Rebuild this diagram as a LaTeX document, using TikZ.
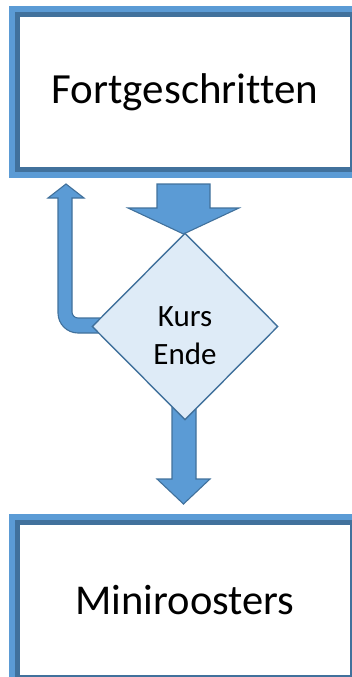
\documentclass[tikz,border=0pt]{standalone}
\usepackage{fontspec}
\setmainfont[Ligatures=CommonOff]{Carlito}
\usetikzlibrary{shapes.geometric,calc}
\definecolor{bfill}{HTML}{5B9BD5}
\definecolor{bdark}{HTML}{41719C}
\definecolor{dfill}{HTML}{DEEBF7}
\tikzset{
  boxnode/.style={draw=bdark, line width=8pt, fill=white, minimum width=338pt, minimum height=158pt, inner sep=0pt},
  boxinner/.style={draw=bfill, line width=6.6pt},
  decnode/.style={diamond, draw=bdark, line width=1.4pt, fill=dfill, minimum width=186pt, minimum height=187pt, inner sep=0pt},
  dectext/.style={align=center, inner sep=0pt, font=\fontsize{31}{38}\selectfont},
  blockarrow/.style={fill=bfill, draw=bdark, line width=1.1pt, line join=miter}
}
\begin{document}
\begin{tikzpicture}[x=1pt,y=-1pt]
\useasboundingbox (0,0) rectangle (352,677);
\clip (0,0) rectangle (352,677);
% boxes
\node[boxnode, font=\fontsize{43}{50}\selectfont] (top) at (185,92) {Fortgeschritten};
\draw[boxinner] (top.south west) rectangle (top.north east);
\node[boxnode, font=\fontsize{42.5}{50}\selectfont] (bot) at (185,600) {Miniroosters};
\draw[boxinner] (bot.south west) rectangle (bot.north east);
% decision position
\coordinate (dc) at (185,326.5);
% arrow from top box to decision
\coordinate (a1) at ($(top.south)+(-1.5,9)$);
\draw[blockarrow] (a1) ++(-26.5,0) -- ++(53,0) -- ++(0,24) -- ++(29,0) -- ++(-55.5,26) -- ++(-55.5,-26) -- ++(29,0) -- cycle;
% loop-back arrow from decision to top box
\coordinate (a2) at (66,184);
\draw[blockarrow] (a2) -- (84,198) -- (72,198) -- (72,312)
  .. controls (72,315.3) and (74.7,318) .. (78,318) -- (112,318) -- (112,333) -- (78,333)
  .. controls (67,333) and (58,324) .. (58,313) -- (58,198) -- (48,198) -- cycle;
% arrow from decision to bottom box
\coordinate (a3) at ($(bot.north)+(-1.5,-13)$);
\draw[blockarrow] (a3) -- ++(26.5,-25) -- ++(-14,0) -- ++(0,-83) -- ++(-24,0) -- ++(0,83) -- ++(-15,0) -- cycle;
% decision
\node[decnode] (dec) at (dc) {};
\node[dectext] (dectxt) at ($(dec.center)+(0,9)$) {Kurs\\Ende};
\end{tikzpicture}
\end{document}
